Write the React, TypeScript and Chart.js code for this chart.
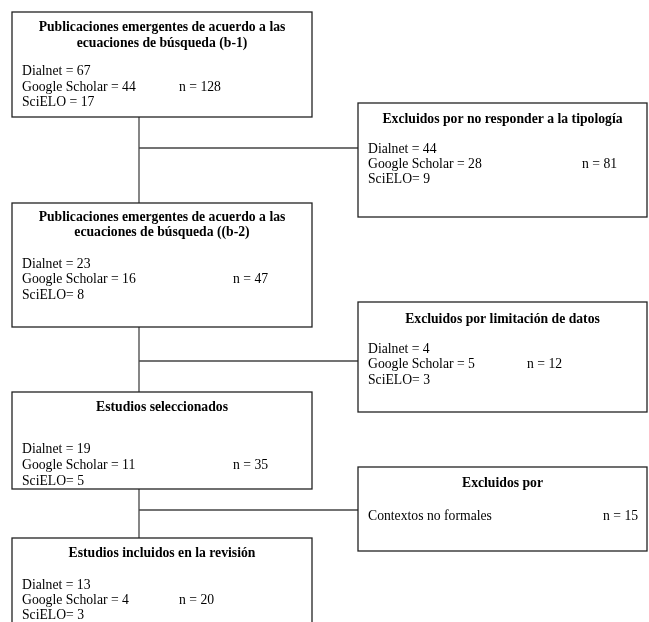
import { useEffect, useRef } from "react";
import { Chart, registerables } from "chart.js";

Chart.register(...registerables);

// ---- Data ----
const boxTitles: string[][] = [
  ["Publicaciones emergentes de acuerdo a las", "ecuaciones de búsqueda (b-1)"],
  ["Excluidos por no responder a la tipología"],
  ["Publicaciones emergentes de acuerdo a las", "ecuaciones de búsqueda ((b-2)"],
  ["Excluidos por limitación de datos"],
  ["Estudios seleccionados"],
  ["Excluidos por"],
  ["Estudios incluidos en la revisión"],
];
const sourceLabels: string[][] = [
  ["Dialnet = ", "Google Scholar = ", "SciELO = "],
  ["Dialnet = ", "Google Scholar = ", "SciELO= "],
  ["Dialnet = ", "Google Scholar = ", "SciELO= "],
  ["Dialnet = ", "Google Scholar = ", "SciELO= "],
  ["Dialnet = ", "Google Scholar = ", "SciELO= "],
  ["Contextos no formales"],
  ["Dialnet = ", "Google Scholar = ", "SciELO= "],
];
const sourceCounts: (number | null)[][] = [
  [67, 44, 17],
  [44, 28, 9],
  [23, 16, 8],
  [4, 5, 3],
  [19, 11, 5],
  [null],
  [13, 4, 3],
];
const totals: number[] = [128, 81, 47, 12, 35, 15, 20];

// ---- Layout (drawing geometry, in scale units) ----
const LEFT_X = [12, 312];
const RIGHT_X = [358, 647];
const boxLayout = [
  { side: "L", y: [12, 117], titleY: [27, 43], rowY: [71, 87, 102], nX: 179, nRow: 1 },
  { side: "R", y: [103, 217], titleY: [119], rowY: [149, 164, 179], nX: 582, nRow: 1 },
  { side: "L", y: [203, 327], titleY: [217, 232], rowY: [264, 279, 295], nX: 233, nRow: 1 },
  { side: "R", y: [302, 412], titleY: [319], rowY: [349, 364, 380], nX: 527, nRow: 1 },
  { side: "L", y: [392, 489], titleY: [407], rowY: [449, 465, 481], nX: 233, nRow: 1 },
  { side: "R", y: [467, 551], titleY: [483], rowY: [516], nX: 603, nRow: 0 },
  { side: "L", y: [538, 640], titleY: [553], rowY: [585, 600, 615], nX: 179, nRow: 1 },
];
const TRUNK_X = 139;
const branchY = [148, 361, 510];

const flowPlugin = {
  id: "flow",
  afterDraw(chart: any) {
    const { ctx } = chart;
    const xs = chart.scales.x;
    const ys = chart.scales.y;
    const px = (v: number) => xs.getPixelForValue(v);
    const py = (v: number) => ys.getPixelForValue(v);
    ctx.save();

    // connectors
    ctx.strokeStyle = "#444";
    ctx.lineWidth = 1.3;
    const leftBoxes = boxLayout.filter((b) => b.side === "L");
    for (let i = 0; i < leftBoxes.length - 1; i++) {
      ctx.beginPath();
      ctx.moveTo(px(TRUNK_X), py(leftBoxes[i].y[1]));
      ctx.lineTo(px(TRUNK_X), py(leftBoxes[i + 1].y[0]));
      ctx.stroke();
    }
    branchY.forEach((by) => {
      ctx.beginPath();
      ctx.moveTo(px(TRUNK_X), py(by));
      ctx.lineTo(px(RIGHT_X[0]), py(by));
      ctx.stroke();
    });

    // boxes
    boxLayout.forEach((b, i) => {
      const bx = b.side === "L" ? LEFT_X : RIGHT_X;
      const x0 = px(bx[0]);
      const x1 = px(bx[1]);
      const y0 = py(b.y[0]);
      const y1 = py(b.y[1]);
      ctx.fillStyle = "#ffffff";
      ctx.fillRect(x0, y0, x1 - x0, y1 - y0);
      ctx.strokeStyle = "#222";
      ctx.lineWidth = 1.3;
      ctx.strokeRect(x0, y0, x1 - x0, y1 - y0);

      ctx.fillStyle = "#000";
      ctx.textBaseline = "middle";
      ctx.font = "bold 13.7px 'Liberation Serif'";
      ctx.textAlign = "center";
      boxTitles[i].forEach((t, k) => {
        ctx.fillText(t, (x0 + x1) / 2, py(b.titleY[k]));
      });

      ctx.font = "13.7px 'Liberation Serif'";
      ctx.textAlign = "left";
      sourceLabels[i].forEach((lab, k) => {
        const c = sourceCounts[i][k];
        ctx.fillText(lab + (c === null ? "" : String(c)), x0 + 10, py(b.rowY[k]));
      });
      ctx.fillText("n = " + totals[i], px(b.nX), py(b.rowY[b.nRow]));
    });

    ctx.restore();
  },
};

export default function App() {
  const ref = useRef<HTMLCanvasElement | null>(null);
  useEffect(() => {
    document.body.style.margin = "0";
    const chart = new Chart(ref.current as HTMLCanvasElement, {
      type: "scatter",
      data: { datasets: [{ data: totals.map(() => null as any), pointRadius: 0 }] },
      options: {
        animation: false,
        responsive: false,
        layout: { padding: 0 },
        plugins: { legend: { display: false }, tooltip: { enabled: false } },
        scales: {
          x: { type: "linear", min: 0, max: 649, display: false },
          y: { type: "linear", min: 0, max: 622, reverse: true, display: false },
        },
      },
      plugins: [flowPlugin],
    });
    return () => chart.destroy();
  }, []);
  return (
    <div style={{ width: 649, height: 622, background: "#fff" }}>
      <canvas ref={ref} width={649} height={622} style={{ display: "block" }} />
    </div>
  );
}
